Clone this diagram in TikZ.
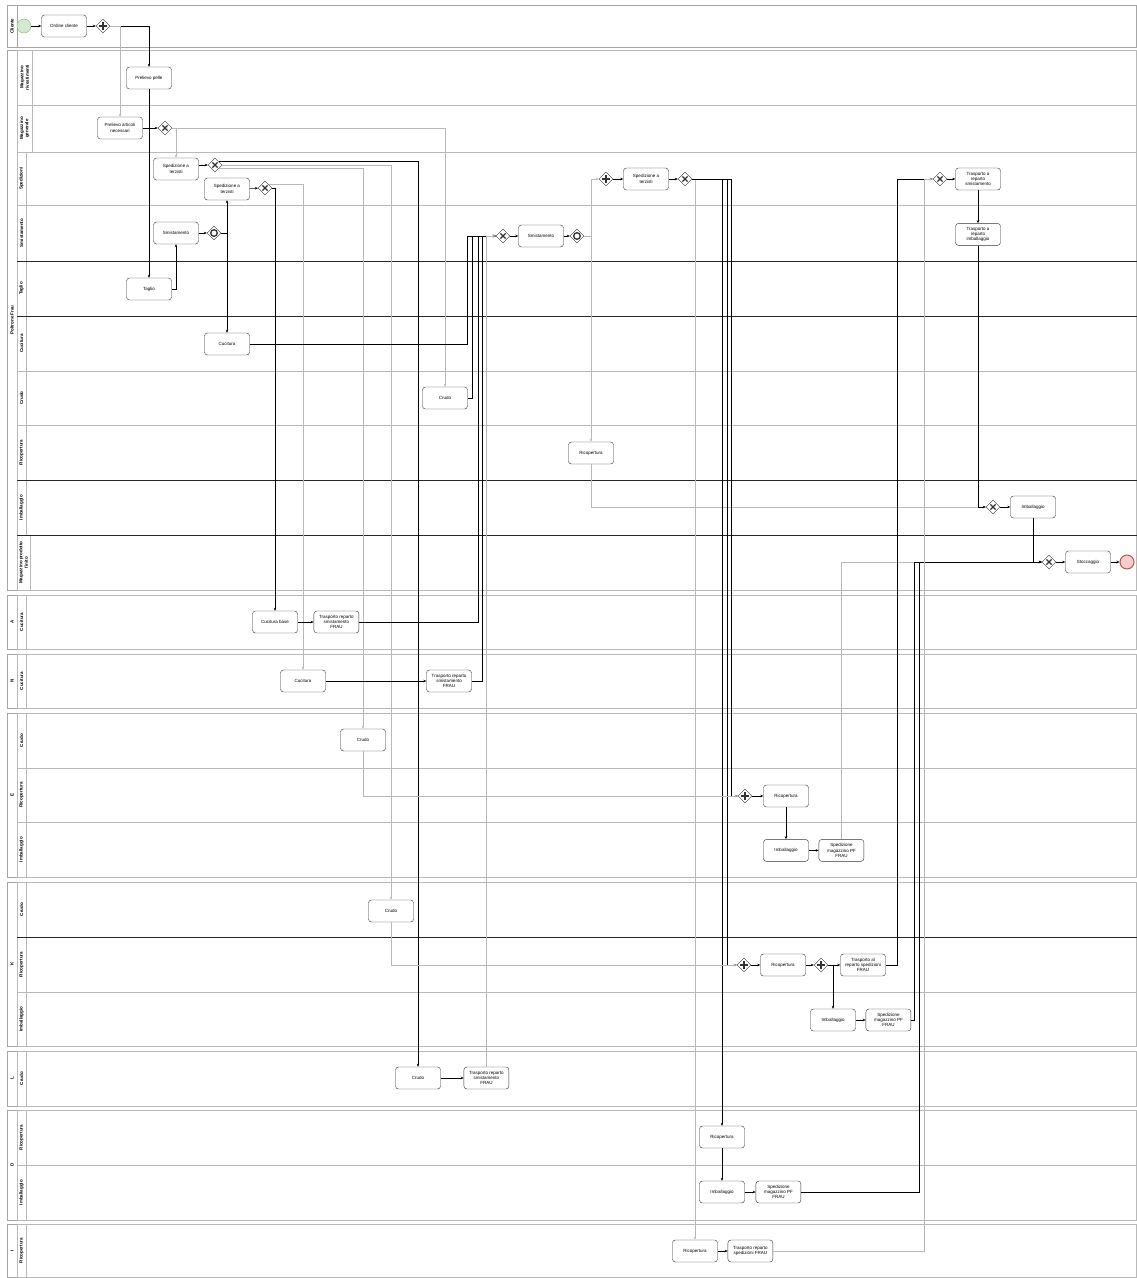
\documentclass[tikz,border=0pt]{standalone}
\usepackage{fontspec}
\setmainfont{Liberation Sans}
\usepackage{xcolor}
\usetikzlibrary{shapes.geometric,arrows.meta,positioning,calc}

\definecolor{startfill}{HTML}{D5E8D4}
\definecolor{startline}{HTML}{82B366}
\definecolor{endfill}{HTML}{F8CECC}
\definecolor{endline}{HTML}{B85450}

\newcommand{\tinytxt}{\fontsize{4.5}{5.3}\selectfont}

\begin{document}
\begin{tikzpicture}[
		x=1pt, y=-1pt,
		poolbox/.style={draw=gray!70, line width=0.6pt},
		lanebox/.style={draw=gray!55, line width=0.5pt},
		darksep/.style={draw=black!85, line width=0.6pt},
		poollab/.style={rotate=90, font=\tinytxt\bfseries, align=center, inner sep=0pt},
		lanelab/.style={rotate=90, font=\tinytxt\bfseries, align=center, inner sep=0pt},
		task/.style={draw=black!80, rounded corners=3pt, fill=white, minimum width=45pt, minimum height=22pt, inner sep=1pt, align=center, font=\tinytxt},
		gate/.style={diamond, draw=black!80, fill=white, minimum size=14pt, inner sep=0pt},
		gxor/.style={gate, path picture={
					\draw[line width=1.2pt] ([shift={(-2.6pt,-2.6pt)}]path picture bounding box.center) -- ([shift={(2.6pt,2.6pt)}]path picture bounding box.center);
					\draw[line width=1.2pt] ([shift={(-2.6pt,2.6pt)}]path picture bounding box.center) -- ([shift={(2.6pt,-2.6pt)}]path picture bounding box.center);}},
		gand/.style={gate, path picture={
					\draw[line width=1.5pt] ([shift={(-3.6pt,0pt)}]path picture bounding box.center) -- ([shift={(3.6pt,0pt)}]path picture bounding box.center);
					\draw[line width=1.5pt] ([shift={(0pt,-3.6pt)}]path picture bounding box.center) -- ([shift={(0pt,3.6pt)}]path picture bounding box.center);}},
		gor/.style={gate, path picture={
					\draw[line width=1.3pt] (path picture bounding box.center) circle[radius=3.3pt];}},
		startev/.style={circle, draw=startline, fill=startfill, minimum size=14pt, inner sep=0pt},
		endev/.style={circle, draw=endline, fill=endfill, line width=1pt, minimum size=14pt, inner sep=0pt},
		flow/.style={draw=black, line width=0.5pt, -{Stealth[length=3pt,width=2.5pt]}},
		pale/.style={flow, draw=gray!55},
	]
	\fill[white] (0,0) rectangle (1137,1278);
	\useasboundingbox (0,0) rectangle (1137,1278);

	% pools
	\foreach \yt/\yb/\lab in {5/47/Cliente, 50/590/Poltrone Frau, 595/649/A, 654/708/N, 713/877/E,
			882/1046/K, 1051/1106/L, 1110/1220/D, 1224/1277/I} {
			\draw[poolbox] (7,\yt) rectangle (1136.5,\yb);
			\draw[poolbox] (17,\yt) -- (17,\yb);
			\node[poollab] at (12,{(\yt+\yb)/2}) {\lab};
		}

	% lanes
	\foreach \yt/\yb/\hx/\lab in {50/105/32/{Magazzino\\rivestimenti}, 105/152/32/{Magazzino\\generale},
			152/205/26/Spedizioni, 205/261/26/Smistamento, 261/316/26/Taglio, 316/371/26/Cucitura,
			371/425/26/Crudo, 425/480/26/Ricopertura, 480/535/26/Imballaggio,
			535/590/30/{Magazzino prodotto\\finito},
			595/649/26/Cucitura, 654/708/26/Cucitura,
			713/768/26/Crudo, 768/822/26/Ricopertura, 822/877/26/Imballaggio,
			882/937/26/Crudo, 937/992/26/Ricopertura, 992/1046/26/Imballaggio,
			1051/1106/26/Crudo, 1110/1165/26/Ricopertura, 1165/1220/26/Imballaggio,
			1224/1277/26/Ricopertura} {
			\draw[lanebox] (17,\yt) rectangle (1136.5,\yb);
			\draw[lanebox] (\hx,\yt) -- (\hx,\yb);
			\node[lanelab] at ({(17+\hx)/2},{(\yt+\yb)/2}) {\lab};
		}
	\foreach \y in {261,316,480,535,937}
	\draw[darksep] (17,\y) -- (1136.5,\y);

	% Cliente
	\node[startev] (start) at (24,26) {};
	\node[task] (ordine) at (64,26) {Ordine cliente};
	\node[gand] (pg1) at (103,26) {};

	% Poltrone Frau
	\node[task] (prelpelle) at (149,78) {Prelievo pelle};
	\node[task] (prelart) at (120,128) {Prelievo articoli\\necessari};
	\node[gxor] (xg1) at (165,128) {};
	\node[task] (sped1) at (176,169) {Spedizione a\\terzisti};
	\node[gxor] (xg2) at (215,165) {};
	\node[task] (sped2) at (227,189) {Spedizione a\\terzisti};
	\node[gxor] (xg3) at (265,188) {};
	\node[task] (smist1) at (176,233) {Smistamento};
	\node[gor] (inc1) at (214,233) {};
	\node[task] (taglio) at (149,289) {Taglio};
	\node[task] (cuc) at (227,344) {Cucitura};
	\node[task] (crudoPF) at (445,398) {Crudo};
	\node[gxor] (xg4) at (503,236) {};
	\node[task] (smist2) at (541,236) {Smistamento};
	\node[gor] (inc2) at (577,236) {};
	\node[gand] (pg2) at (606,179) {};
	\node[task] (spedV) at (646,179) {Spedizione a\\terzisti};
	\node[gxor] (xg5) at (685,179) {};
	\node[task] (ricPF) at (591,453) {Ricopertura};
	\node[gxor] (xg7) at (940,179) {};
	\node[task] (trSm) at (978,179) {Trasporto a\\reparto\\smistamento};
	\node[task, below=33pt of trSm] (trImb) {Trasporto a\\reparto\\imballaggio};
	\node[gxor] (xg6) at (993,507) {};
	\node[task] (imbPF) at (1033,507) {Imballaggio};
	\node[gxor] (xg8) at (1049,562) {};
	\node[task] (stocc) at (1088,562) {Stoccaggio};
	\node[endev] (fine) at (1127,562) {};

	% A, N
	\node[task] (cucbase) at (275,622) {Cucitura base};
	\node[task, right=16pt of cucbase] (trA) {Trasporto reparto\\smistamento\\FRAU};
	\node[task] (cucN) at (303,681) {Cucitura};
	\node[task] (trN) at (449,681) {Trasporto reparto\\smistamento\\FRAU};

	% E
	\node[task] (crudoE) at (363,740) {Crudo};
	\node[gand] (pgE) at (745,796) {};
	\node[task] (ricE) at (786,796) {Ricopertura};
	\node[task, below=32pt of ricE] (imbE) {Imballaggio};
	\node[task, right=10pt of imbE] (speE) {Spedizione\\magazzino PF\\FRAU};

	% K
	\node[task] (crudoK) at (391,911) {Crudo};
	\node[gand] (pgK) at (744,965) {};
	\node[task] (ricK) at (783,965) {Ricopertura};
	\node[gand] (pgK2) at (821,965) {};
	\node[task] (trK) at (863,965) {Trasporto al\\reparto spedizioni\\FRAU};
	\node[task] (imbK) at (833,1020) {Imballaggio};
	\node[task, right=10pt of imbK] (speK) {Spedizione\\magazzino PF\\FRAU};

	% L
	\node[task] (crudoL) at (418,1078) {Crudo};
	\node[task, right=23pt of crudoL] (trL) {Trasporto reparto\\smistamento\\FRAU};

	% D, I
	\node[task] (ricD) at (722,1137) {Ricopertura};
	\node[task] (imbD) at (722,1192) {Imballaggio};
	\node[task, right=11pt of imbD] (speD) {Spedizione\\magazzino PF\\FRAU};
	\node[task] (ricI) at (695,1251) {Ricopertura};
	\node[task, right=10pt of ricI] (trI) {Trasporto reparto\\spedizioni FRAU};

	% connectors
	\draw[flow] (start) -- (ordine);
	\draw[flow] (ordine) -- (pg1);
	\draw[flow] (pg1.east) -| (prelpelle.north);
	\draw[pale] (pg1.east) -| (prelart.north);
	\draw[flow] (prelpelle) -- (taglio);
	\draw[flow] (taglio.east) -| (smist1.south);
	\draw[flow] (smist1) -- (inc1);
	\draw[flow] (inc1.east) -| (sped2.south);
	\draw[flow] (inc1.east) -| (cuc.north);
	\draw[flow] (prelart) -- (xg1);
	\draw[pale] (xg1.east) -| (sped1.north);
	\draw[pale] (xg1.east) -| (crudoPF.north);
	\draw[flow] (sped1.east |- xg2.west) -- (xg2.west);
	\draw[pale] (xg2.south east) -| (crudoE.north);
	\draw[pale] (xg2.east) -| (crudoK.north);
	\draw[flow] (xg2.north east) -| (crudoL.north);
	\draw[flow] (sped2) -- (xg3);
	\draw[flow] (xg3.east) -| (cucbase.north);
	\draw[pale] (xg3.north east) -| (cucN.north);
	\draw[flow] (cucbase) -- (trA);
	\draw[flow] (cucN) -- (trN);
	\draw[flow] (cuc.east) -- ++(218,0) |- (xg4.west);
	\draw[flow] (crudoPF.east) -- ++(5,0) |- (xg4.west);
	\draw[flow] (trA.east) -- ++(119,0) |- (xg4.west);
	\draw[flow] (trN.east) -- ++(11,0) |- (xg4.west);
	\draw[pale] (trL.north) |- (xg4.west);
	\draw[flow] (xg4) -- (smist2);
	\draw[flow] (smist2) -- (inc2);
	\draw[pale] (inc2.east) -- ++(7,0) |- (pg2.west);
	\draw[pale] (inc2.east) -| (ricPF.north);
	\draw[flow] (pg2) -- (spedV);
	\draw[flow] (spedV) -- (xg5);
	\draw[pale] (ricPF.south) |- (xg6.west);
	\draw[pale] (xg5.east) -| (ricI.north);
	\draw[flow] (xg5.east) -| (ricD.north);
	\draw[flow] (xg5.east) -- ++(35,0) |- (pgK.west);
	\draw[flow] (xg5.east) -- ++(39,0) |- (pgE.west);
	\draw[pale] (crudoE.south) |- (pgE.west);
	\draw[flow] (pgE) -- (ricE);
	\draw[flow] (ricE) -- (imbE);
	\draw[flow] (imbE) -- (speE);
	\draw[pale] (speE.north) |- (xg8.west);
	\draw[pale] (crudoK.south) |- (pgK.west);
	\draw[flow] (pgK) -- (ricK);
	\draw[flow] (ricK) -- (pgK2);
	\draw[flow] (pgK2) -- (trK);
	\draw[flow] (pgK2.east) -| (imbK.north);
	\draw[flow] (imbK) -- (speK);
	\draw[flow] (speK.east) -- ++(3,0) |- (xg8.west);
	\draw[flow] (trK.east) -- ++(12,0) |- (xg7.west);
	\draw[flow] (crudoL) -- (trL);
	\draw[flow] (ricD) -- (imbD);
	\draw[flow] (imbD) -- (speD);
	\draw[flow] (speD.east) -- ++(118,0) |- (xg8.west);
	\draw[flow] (ricI) -- (trI);
	\draw[pale] (trI.east) -- ++(151,0) |- (xg7.west);
	\draw[flow] (xg7) -- (trSm);
	\draw[flow] (trSm) -- (trImb);
	\draw[flow] (trImb.south) |- (xg6.west);
	\draw[flow] (xg6) -- (imbPF);
	\draw[flow] (imbPF.south) |- (xg8.west);
	\draw[flow] (xg8) -- (stocc);
	\draw[flow] (stocc) -- (fine);
\end{tikzpicture}
\end{document}
